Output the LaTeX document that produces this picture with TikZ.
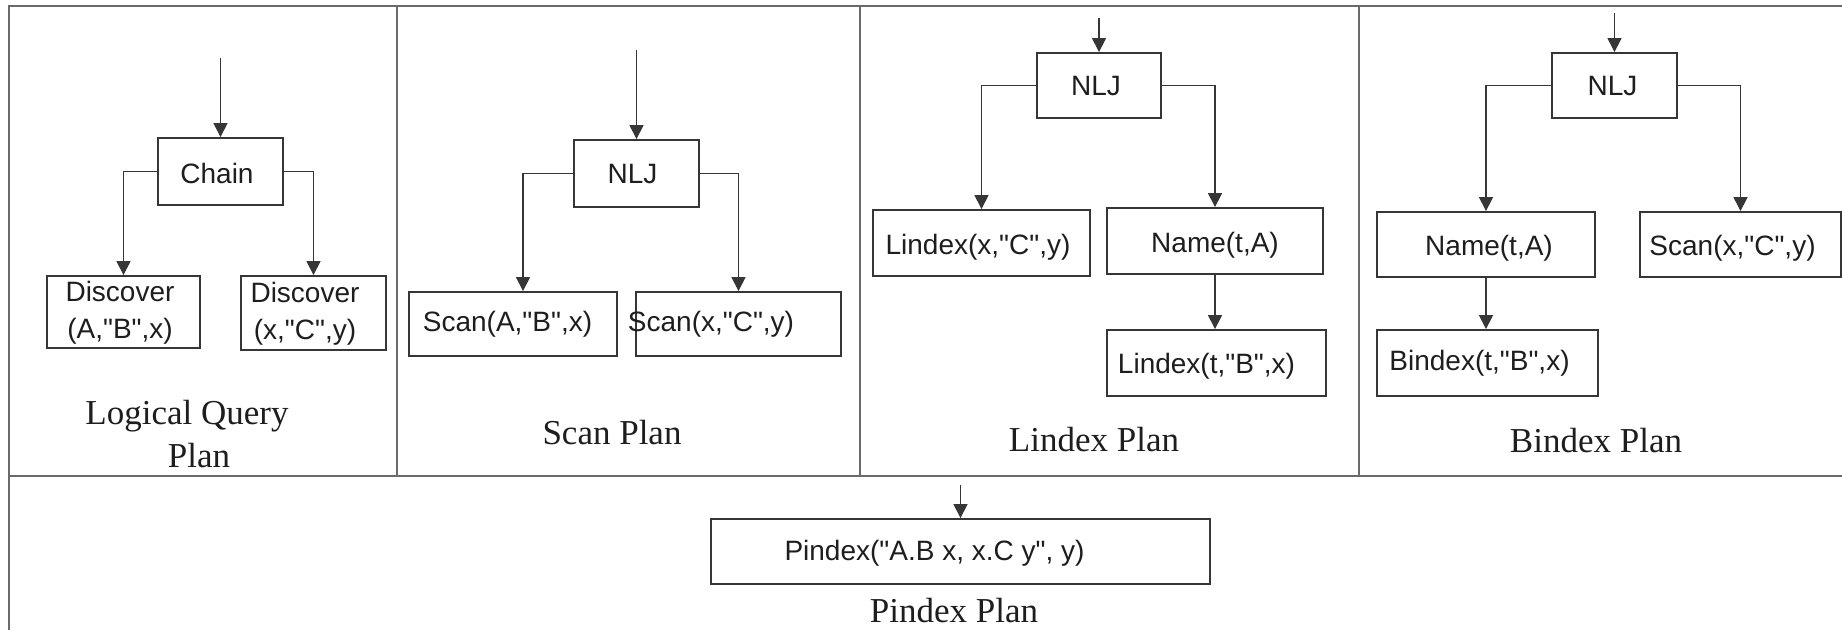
\documentclass[tikz,border=0pt]{standalone}
\usepackage{fontspec}
\setmainfont{Liberation Serif}
\newfontfamily\boxfont{Liberation Sans}
\usetikzlibrary{arrows.meta}
\definecolor{framec}{HTML}{6A6A6A}
\definecolor{linec}{HTML}{363636}
\definecolor{txtc}{HTML}{1E1E1E}
\tikzset{
  frame/.style={draw=framec, line width=2.4pt},
  opbox/.style={draw=linec, line width=1.9pt, inner sep=0pt, rectangle},
  optext/.style={text=txtc, font=\boxfont\fontsize{28}{37}\selectfont, inner sep=0pt, align=center},
  plantext/.style={text=txtc, font=\fontsize{35}{43}\selectfont, inner sep=0pt, align=center},
  arr/.style={draw=linec, line width=1.6pt, -{Triangle[length=14pt,width=14pt]}},
  conn/.style={draw=linec, line width=1.6pt}
}
\begin{document}
\begin{tikzpicture}[x=1pt,y=-1pt]
\useasboundingbox (0,0) rectangle (1842,630);
\fill[white] (0,0) rectangle (1842,630);
% frame
\draw[frame] (9,630) -- (9,6) -- (1842,6);
\draw[frame] (9,476) -- (1842,476);
\draw[frame] (397,6) -- (397,476);
\draw[frame] (860,6) -- (860,476);
\draw[frame] (1359,6) -- (1359,476);

% ---------- Logical Query Plan ----------
\node[opbox, minimum width=125pt, minimum height=67pt] (chain) at (220.5,171.5) {};
\node[optext] (chainT) at (217,173) {Chain};
\node[opbox, minimum width=153pt, minimum height=72pt] (d1) at (123.5,312) {};
\node[optext] (d1T) at (120,313) {Discover\\(A,"B",x)};
\node[opbox, minimum width=145pt, minimum height=74pt] (d2) at (313.5,313) {};
\node[optext] (d2T) at (305,314) {Discover\\(x,"C",y)};
\coordinate (in1) at (220.5,58);
\draw[arr] (in1) -- (chain.north);
\draw[arr] (chain.west) -| (d1.north);
\draw[arr] (chain.east) -| (d2.north);
\node[plantext] (lqp) at (193,434) {\hspace*{-12pt}Logical Query\\\hspace*{12pt}Plan};

% ---------- Scan Plan ----------
\node[opbox, minimum width=125pt, minimum height=67pt] (nlj2) at (636.5,173.5) {};
\node[optext] (nlj2T) at (632.5,174) {NLJ};
\node[opbox, minimum width=208pt, minimum height=64pt] (s2a) at (513,324) {};
\node[optext] (s2aT) at (507.5,324) {Scan(A,"B",x)};
\node[opbox, minimum width=205pt, minimum height=64pt] (s2b) at (738.5,324) {};
\node[optext] (s2bT) at (711,324) {Scan(x,"C",y)};
\coordinate (in2) at (636.5,50);
\draw[arr] (in2) -- (nlj2.north);
\draw[arr] (nlj2.west) -| ([xshift=10pt]s2a.north);
\draw[arr] (nlj2.east) -| (s2b.north);
\node[plantext] (sp) at (612,433) {Scan Plan};

% ---------- Lindex Plan ----------
\node[opbox, minimum width=124pt, minimum height=65pt] (nlj3) at (1099,85.5) {};
\node[optext] (nlj3T) at (1096,86) {NLJ};
\node[opbox, minimum width=217pt, minimum height=66pt] (l3a) at (981.5,243) {};
\node[optext] (l3aT) at (978,247) {Lindex(x,"C",y)};
\node[opbox, minimum width=216pt, minimum height=66pt] (n3) at (1215,241) {};
\node[optext] (n3T) at (1215,245) {Name(t,A)};
\node[opbox, minimum width=219pt, minimum height=66pt] (l3b) at (1216.5,363) {};
\node[optext] (l3bT) at (1206.5,366) {Lindex(t,"B",x)};
\coordinate (in3) at (1099,18);
\draw[arr] (in3) -- (nlj3.north);
\draw[arr] (nlj3.west) -| (l3a.north);
\draw[arr] (nlj3.east) -| (n3.north);
\draw[arr] (n3.south) -- (n3.south |- l3b.north);
\node[plantext] (lp) at (1094,440) {Lindex Plan};

% ---------- Bindex Plan ----------
\node[opbox, minimum width=125pt, minimum height=65pt] (nlj4) at (1614.5,85.5) {};
\node[optext] (nlj4T) at (1612.5,86) {NLJ};
\node[opbox, minimum width=218pt, minimum height=65pt] (n4) at (1486,244.5) {};
\node[optext] (n4T) at (1489,248) {Name(t,A)};
\node[opbox, minimum width=201pt, minimum height=65pt] (s4) at (1740.5,244.5) {};
\node[optext] (s4T) at (1732.5,248) {Scan(x,"C",y)};
\node[opbox, minimum width=221pt, minimum height=66pt] (b4) at (1487.5,363) {};
\node[optext] (b4T) at (1479.5,363) {Bindex(t,"B",x)};
\coordinate (in4) at (1614.5,13);
\draw[arr] (in4) -- (nlj4.north);
\draw[arr] (nlj4.west) -| (n4.north);
\draw[arr] (nlj4.east) -| (s4.north);
\draw[arr] (n4.south) -- (n4.south |- b4.north);
\node[plantext] (bp) at (1596,441) {Bindex Plan};

% ---------- Pindex Plan ----------
\node[opbox, minimum width=499pt, minimum height=65pt] (p5) at (960.5,551.5) {};
\node[optext] (p5T) at (934.5,553) {Pindex("A.B x, x.C y", y)};
\coordinate (in5) at (960.5,485);
\draw[arr] (in5) -- (p5.north);
\node[plantext] (pp) at (954,611) {Pindex Plan};
\end{tikzpicture}
\end{document}
